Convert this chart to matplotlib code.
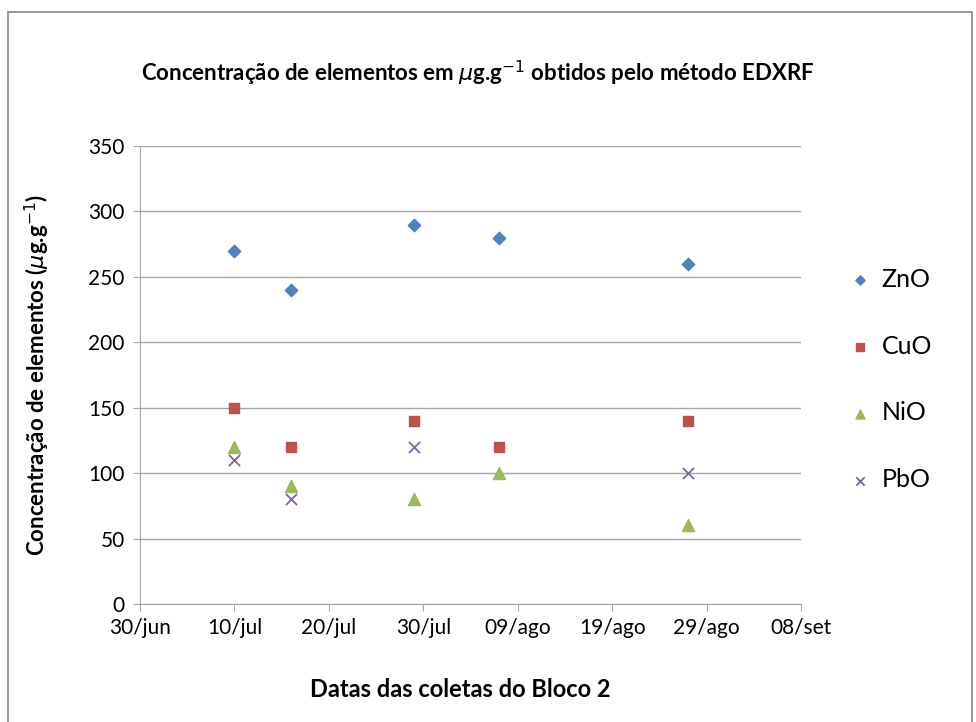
import datetime as dt
import numpy as np
import matplotlib
matplotlib.use('Agg')
import matplotlib.pyplot as plt
from matplotlib.patches import Rectangle

plt.rcParams['font.family'] = ['Lato', 'DejaVu Sans']

# sampling dates (2nd block)
dates = [dt.date(2011, 7, 10), dt.date(2011, 7, 16), dt.date(2011, 7, 29),
         dt.date(2011, 8, 7), dt.date(2011, 8, 27)]
zno = [270, 240, 290, 280, 260]
cuo = [150, 120, 140, 120, 140]
nio = [120, 90, 80, 100, 60]
pbo = [110, 80, 120, np.nan, 100]

meses = {6: 'jun', 7: 'jul', 8: 'ago', 9: 'set'}

W, H = 976, 722
fig = plt.figure(figsize=(W / 100, H / 100), dpi=100)
ax = fig.add_axes([140 / W, 1 - 604 / H, (801 - 140) / W, (604 - 146) / H])

ax.scatter(dates, zno, marker='D', s=40, color='#4F81BD', label='ZnO', zorder=3)
ax.scatter(dates, cuo, marker='s', s=60, color='#C0504D', label='CuO', zorder=3)
ax.scatter(dates, nio, marker='^', s=75, color='#9BBB59', label='NiO', zorder=3)
ax.scatter(dates, pbo, marker='x', s=65, color='#8064A2', linewidths=1.3,
           label='PbO', zorder=3)

start = dt.date(2011, 6, 30)
ticks = [start + dt.timedelta(days=10 * i) for i in range(8)]
ax.set_xlim(ticks[0], ticks[-1])
ax.set_xticks(ticks)
ax.set_xticklabels([f'{d.day:02d}/{meses[d.month]}' for d in ticks])
ax.set_ylim(0, 350)
ax.set_yticks(range(0, 351, 50))

ax.grid(axis='y', color='#A6A6A6', lw=1)
ax.set_axisbelow(True)
for s in ('top', 'right'):
    ax.spines[s].set_visible(False)
for s in ('left', 'bottom'):
    ax.spines[s].set_color('#A6A6A6')
ax.tick_params(axis='both', colors='#A6A6A6', labelcolor='black',
               labelsize=15, length=5)
ax.tick_params(axis='x', pad=5)
ax.tick_params(axis='y', pad=6)

ax.set_ylabel(r'Concentração de elementos ($\mu$g.g$^{-1}$)',
              fontsize=16, fontweight='bold')
ax.yaxis.set_label_coords(-0.133, 0.5)
ax.set_xlabel('Datas das coletas do Bloco 2', fontsize=17, fontweight='bold')
ax.xaxis.set_label_coords(0.484, -0.162)
fig.text(0.489, 1 - 73 / H,
         r'Concentração de elementos em $\mu$g.g$^{-1}$ obtidos pelo método EDXRF',
         ha='center', va='center', fontsize=16, fontweight='bold')

leg = ax.legend(loc='center left', bbox_to_anchor=(1.037, 0.49), frameon=False,
                fontsize=18, labelspacing=1.75, handlelength=1.0,
                handletextpad=0.35, markerscale=0.75)

# outer chart border
fig.patches.append(Rectangle((8 / W, -0.05), (972 - 8) / W, 1.05 - 12 / H,
                             transform=fig.transFigure, fill=False,
                             edgecolor='#868686', lw=1.2))

fig.savefig('out.png', dpi=100)
